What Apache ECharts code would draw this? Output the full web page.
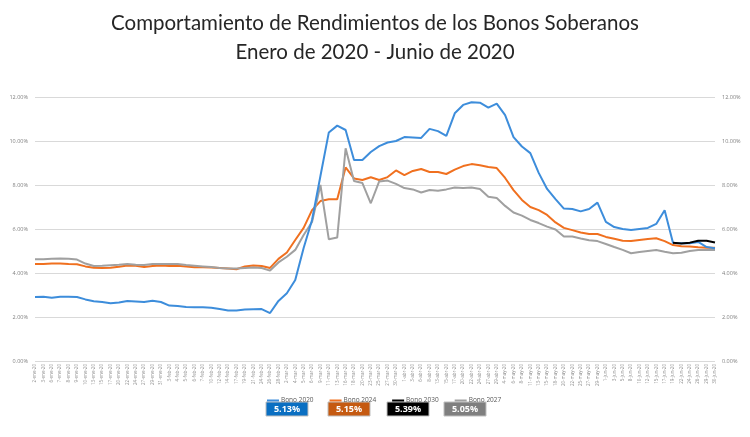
<!DOCTYPE html>
<html>
<head>
<meta charset="utf-8">
<script src="https://cdn.jsdelivr.net/npm/echarts@6/dist/echarts.min.js"></script>
<style>html,body{margin:0;padding:0;background:#fff}#c{width:750px;height:437px}</style>
</head>
<body>
<div id="c"></div>
<script>
const dates = [
 "2-ene-20","3-ene-20","6-ene-20","7-ene-20","8-ene-20","9-ene-20","10-ene-20","13-ene-20","15-ene-20","17-ene-20","20-ene-20","22-ene-20","24-ene-20","27-ene-20","29-ene-20","31-ene-20",
 "3-feb-20","4-feb-20","5-feb-20","6-feb-20","7-feb-20","10-feb-20","12-feb-20","14-feb-20","17-feb-20","19-feb-20","21-feb-20","24-feb-20","26-feb-20","28-feb-20",
 "2-mar-20","4-mar-20","5-mar-20","6-mar-20","9-mar-20","11-mar-20","13-mar-20","16-mar-20","18-mar-20","20-mar-20","23-mar-20","25-mar-20","27-mar-20","30-mar-20",
 "1-abr-20","3-abr-20","6-abr-20","8-abr-20","13-abr-20","15-abr-20","17-abr-20","20-abr-20","22-abr-20","24-abr-20","27-abr-20","29-abr-20",
 "4-may-20","6-may-20","8-may-20","11-may-20","13-may-20","15-may-20","18-may-20","20-may-20","22-may-20","25-may-20","27-may-20","29-may-20",
 "1-jun-20","3-jun-20","5-jun-20","8-jun-20","10-jun-20","12-jun-20","15-jun-20","17-jun-20","19-jun-20","22-jun-20","24-jun-20","26-jun-20","29-jun-20","30-jun-20"
];
const bono2020 = [2.91,2.92,2.87,2.92,2.92,2.91,2.80,2.72,2.68,2.62,2.66,2.73,2.71,2.68,2.74,2.68,2.52,2.50,2.45,2.44,2.44,2.42,2.36,2.30,2.30,2.34,2.35,2.36,2.18,2.73,
 3.08,3.68,5.14,6.41,8.41,10.39,10.70,10.50,9.14,9.14,9.50,9.77,9.93,10.00,10.18,10.16,10.14,10.55,10.45,10.23,
 11.26,11.64,11.76,11.74,11.52,11.70,11.18,10.18,9.75,9.45,8.55,7.82,7.36,6.93,6.91,6.80,6.91,7.20,6.32,6.09,
 6.00,5.95,6.00,6.05,6.23,6.85,5.36,5.35,5.35,5.41,5.18,5.13];
const bono2024 = [4.41,4.41,4.43,4.43,4.41,4.40,4.30,4.24,4.23,4.24,4.28,4.34,4.33,4.27,4.32,4.34,4.32,4.33,4.30,4.26,4.26,4.25,4.23,4.20,4.17,4.30,4.34,4.32,4.23,4.64,
 4.93,5.50,6.05,6.86,7.27,7.35,7.35,8.80,8.30,8.23,8.35,8.23,8.36,8.66,8.45,8.64,8.73,8.59,8.59,8.50,
 8.70,8.86,8.95,8.90,8.82,8.77,8.32,7.77,7.32,7.00,6.86,6.64,6.30,6.05,5.95,5.84,5.77,5.77,5.64,5.56,
 5.47,5.45,5.50,5.55,5.58,5.45,5.27,5.22,5.20,5.17,5.15,5.15];
const bono2030 = [null,null,null,null,null,null,null,null,null,null,null,null,null,null,null,null,null,null,null,null,null,null,null,null,null,null,null,null,null,null,
 null,null,null,null,null,null,null,null,null,null,null,null,null,null,null,null,null,null,null,null,
 null,null,null,null,null,null,null,null,null,null,null,null,null,null,null,null,null,null,null,null,
 null,null,null,null,null,null,5.37,5.34,5.38,5.47,5.47,5.39];
const bono2027 = [4.62,4.62,4.65,4.66,4.65,4.61,4.43,4.32,4.33,4.35,4.37,4.41,4.38,4.36,4.41,4.41,4.41,4.41,4.36,4.33,4.30,4.27,4.23,4.20,4.20,4.23,4.25,4.23,4.11,4.48,
 4.74,5.05,5.73,6.32,8.00,5.53,5.61,9.67,8.18,8.09,7.17,8.16,8.20,8.05,7.86,7.80,7.66,7.77,7.74,7.80,
 7.89,7.86,7.89,7.82,7.47,7.41,7.05,6.75,6.61,6.41,6.27,6.11,5.98,5.66,5.66,5.57,5.49,5.45,5.32,5.18,
 5.05,4.90,4.95,5.00,5.05,4.97,4.90,4.92,5.00,5.05,5.05,5.05];
const seriesNames = ["Bono 2020","Bono 2024","Bono 2030","Bono 2027"];
const seriesColors = ["#3d8ddb","#f0701f","#000000","#a0a0a0"];
const boxColors = ["#0a6fc2","#c55a11","#000000","#7f7f7f"];
const lastValues = ["5.13%","5.15%","5.39%","5.05%"];
const titleLines = ["Comportamiento de Rendimientos de los Bonos Soberanos","Enero de 2020 - Junio de 2020"];

const chart = echarts.init(document.getElementById('c'), null, {renderer:'canvas'});
const dataArr = [bono2020,bono2024,bono2030,bono2027];
const boxX = [266,328,387,444];
const graphics = [];
lastValues.forEach((v,i)=>{
  graphics.push({type:'rect', x:boxX[i], y:402, shape:{x:0,y:0,width:42,height:14}, style:{fill:boxColors[i], stroke:'#bfbfbf', lineWidth:1}});
  graphics.push({type:'text', x:boxX[i]+21, y:409.5, style:{text:v, fill:'#fff', fontSize:9, fontWeight:'bold', fontFamily:'"Open Sans"', align:'center', verticalAlign:'middle', textAlign:'center', textVerticalAlign:'middle'}});
});
const axisLab = {fontSize:5.5, color:'#7f7f7f', fontFamily:'"Open Sans"', formatter: v => v.toFixed(2)+'%'};
chart.setOption({
  animation:false,
  title:[
    {text:titleLines[0], left:'center', top:8, textStyle:{fontFamily:'Lato', fontWeight:'normal', fontSize:20.5, color:'#262626'}},
    {text:titleLines[1], left:'center', top:37, textStyle:{fontFamily:'Lato', fontWeight:'normal', fontSize:20.5, color:'#262626'}}
  ],
  grid:{left:35, right:35, top:97, bottom:76, containLabel:false},
  legend:{left:262, top:392, itemWidth:12, itemHeight:2, itemGap:16, icon:'rect',
    textStyle:{fontSize:6.5, color:'#595959', fontFamily:'"Open Sans"', padding:[0,0,0,-3]}, data:seriesNames},
  xAxis:{type:'category', data:dates, boundaryGap:false,
    axisLine:{show:false}, axisTick:{show:false},
    axisLabel:{interval:0, rotate:90, fontSize:4.5, color:'#8c8c8c', margin:3, fontFamily:'"Open Sans"'}},
  yAxis:[
    {type:'value', min:0, max:12, interval:2, position:'left', axisLabel:Object.assign({margin:7},axisLab),
      splitLine:{lineStyle:{color:'#d9d9d9', width:1}}, axisLine:{show:false}, axisTick:{show:false}},
    {type:'value', min:0, max:12, interval:2, position:'right', axisLabel:Object.assign({margin:7},axisLab),
      splitLine:{show:false}, axisLine:{show:false}, axisTick:{show:false}}
  ],
  series: seriesNames.map((n,i)=>({name:n, type:'line', data:dataArr[i], symbol:'none', connectNulls:false,
    lineStyle:{color:seriesColors[i], width:2}, itemStyle:{color:seriesColors[i]}, z: i===2?5:(i===0?4:3)})),
  graphic: graphics
});
</script>
</body>
</html>
